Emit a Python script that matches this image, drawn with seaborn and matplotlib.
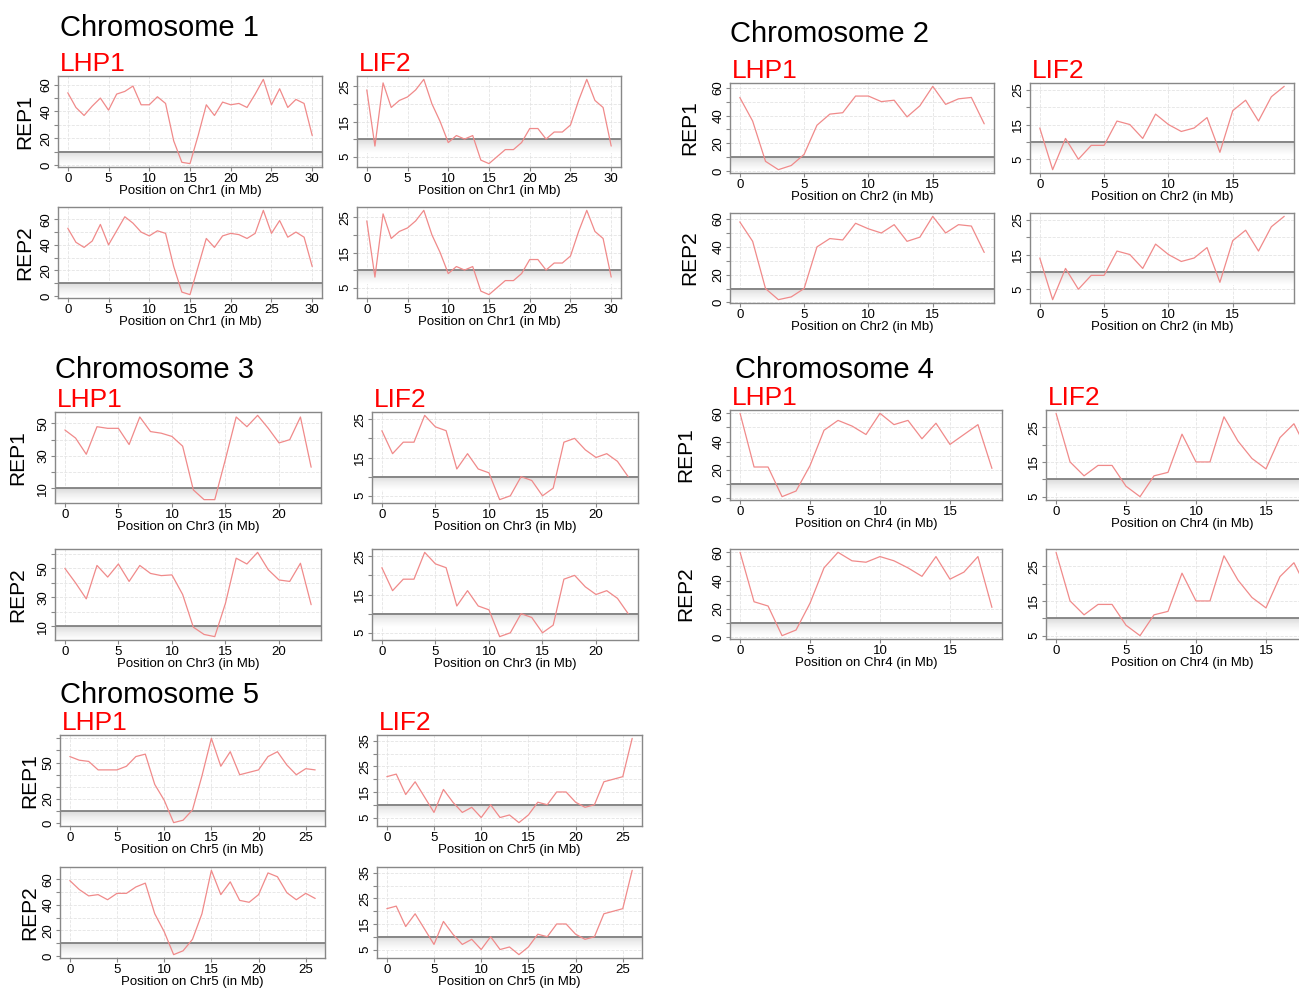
import numpy as np
import pandas as pd
import matplotlib.pyplot as plt
import seaborn as sns
from matplotlib.ticker import FixedLocator, FuncFormatter

# signal per 1 Mb bin (REP1 / REP2 for each protein)
chr1_lhp1_rep1 = [54, 43, 37, 44, 50, 41, 53, 55, 59, 45, 45, 51, 46, 18, 2, 1, 22, 45, 37, 47, 45, 46, 43, 53, 64, 45, 57, 43, 49, 46, 22]
chr1_lhp1_rep2 = [53, 42, 38, 43, 56, 40, 51, 62, 57, 50, 47, 51, 49, 23, 3, 1, 23, 45, 38, 47, 49, 48, 45, 49, 67, 49, 59, 46, 50, 46, 23]
chr1_lif2_rep1 = [24, 8, 26, 19, 21, 22, 24, 27, 20, 15, 9, 11, 10, 11, 4, 3, 5, 7, 7, 9, 13, 13, 10, 12, 12, 14, 21, 27, 21, 19, 8]
chr1_lif2_rep2 = [24, 8, 26, 19, 21, 22, 24, 27, 20, 15, 9, 11, 10, 11, 4, 3, 5, 7, 7, 9, 13, 13, 10, 12, 12, 14, 21, 27, 21, 19, 8]

chr2_lhp1_rep1 = [53, 36, 7, 1, 4, 12, 33, 41, 42, 54, 54, 50, 51, 39, 47, 61, 48, 52, 53, 34]
chr2_lhp1_rep2 = [58, 44, 10, 2, 4, 10, 40, 46, 45, 57, 53, 50, 56, 44, 47, 62, 50, 56, 55, 36]
chr2_lif2_rep1 = [14, 2, 11, 5, 9, 9, 16, 15, 11, 18, 15, 13, 14, 17, 7, 19, 22, 16, 23, 26]
chr2_lif2_rep2 = [14, 2, 11, 5, 9, 9, 16, 15, 11, 18, 15, 13, 14, 17, 7, 19, 22, 16, 23, 26]

chr3_lhp1_rep1 = [46, 41, 31, 48, 47, 47, 37, 54, 45, 44, 42, 36, 9, 3, 3, 28, 54, 48, 55, 47, 38, 40, 54, 23]
chr3_lhp1_rep2 = [50, 40, 29, 52, 44, 53, 41, 52, 46.5, 45, 45.5, 32, 9.5, 4.5, 3, 26, 57, 53, 61, 49, 42, 41, 53.5, 25]
chr3_lif2_rep1 = [22, 16, 19, 19, 26, 23, 22, 12, 16, 12, 11, 4, 5, 10, 9, 5, 7, 19, 20, 17, 15, 16, 14, 10]
chr3_lif2_rep2 = [22, 16, 19, 19, 26, 23, 22, 12, 16, 12, 11, 4, 5, 10, 9, 5, 7, 19, 20, 17, 15, 16, 14, 10]

chr4_lhp1_rep1 = [60, 22, 22, 1, 5, 23, 48, 55, 51, 45, 60, 52, 55, 42, 53, 38, 45, 52, 21]
chr4_lhp1_rep2 = [60, 25, 22, 1, 5, 24, 49, 60, 54, 53, 57, 54, 49, 43, 57, 41, 46, 57, 21]
chr4_lif2_rep1 = [29, 15, 11, 14, 14, 8, 5, 11, 12, 23, 15, 15, 28, 21, 16, 13, 22, 26, 18]
chr4_lif2_rep2 = [29, 15, 11, 14, 14, 8, 5, 11, 12, 23, 15, 15, 28, 21, 16, 13, 22, 26, 18]

chr5_lhp1_rep1 = [55, 52, 51, 44, 44, 44, 47, 55, 57, 32, 19, 0.5, 2.5, 11, 39, 70, 47, 59, 40, 42, 44, 55, 59, 48, 40, 45, 44]
chr5_lhp1_rep2 = [59, 52, 47, 48, 44, 49, 49, 54, 57, 33, 19, 1, 4, 13, 33, 67, 48, 58, 43.5, 42, 48, 65, 62, 49.5, 44, 49, 45]
chr5_lif2_rep1 = [21, 22, 14, 19, 13, 7, 16, 11, 7, 9, 5, 10, 5, 6, 3, 6, 11, 10, 15, 15, 11, 9, 10, 19, 20, 21, 36]
chr5_lif2_rep2 = [21, 22, 14, 19, 13, 7, 16, 11, 7, 9, 5, 10, 5, 6, 3, 6, 11, 10, 15, 15, 11, 9, 10, 19, 20, 21, 36]

threshold = 10
proteins = ['LHP1', 'LIF2']
reps = ['REP1', 'REP2']

# labelled y ticks (the other ticks are drawn without labels)
lhp1_ylabels = [0, 20, 40, 60]
lhp1_ylabels_chr3 = [10, 30, 50]
lhp1_ylabels_chr5_rep1 = [0, 20, 50]
lif2_ylabels = [5, 15, 25]
lif2_ylabels_chr5 = [5, 15, 25, 35]

series = {
    1: [[chr1_lhp1_rep1, chr1_lhp1_rep2], [chr1_lif2_rep1, chr1_lif2_rep2]],
    2: [[chr2_lhp1_rep1, chr2_lhp1_rep2], [chr2_lif2_rep1, chr2_lif2_rep2]],
    3: [[chr3_lhp1_rep1, chr3_lhp1_rep2], [chr3_lif2_rep1, chr3_lif2_rep2]],
    4: [[chr4_lhp1_rep1, chr4_lhp1_rep2], [chr4_lif2_rep1, chr4_lif2_rep2]],
    5: [[chr5_lhp1_rep1, chr5_lhp1_rep2], [chr5_lif2_rep1, chr5_lif2_rep2]],
}
ylabel_sets = {
    1: [[lhp1_ylabels, lhp1_ylabels], [lif2_ylabels, lif2_ylabels]],
    2: [[lhp1_ylabels, lhp1_ylabels], [lif2_ylabels, lif2_ylabels]],
    3: [[lhp1_ylabels_chr3, lhp1_ylabels_chr3], [lif2_ylabels, lif2_ylabels]],
    4: [[lhp1_ylabels, lhp1_ylabels], [lif2_ylabels, lif2_ylabels]],
    5: [[lhp1_ylabels_chr5_rep1, lhp1_ylabels], [lif2_ylabels_chr5, lif2_ylabels_chr5]],
}
ytick_step = [10, 5]

# layout in pixels: title x, title baseline, LHP1 left, LIF2 left, REP1 top, REP2 top, width, height, REP label x
layout = {
    1: (60, 36, 58, 357, 76, 207, 264, 91, 25),
    2: (730, 42, 730, 1030, 83, 213, 264, 90, 690),
    3: (55, 378, 55, 372, 412, 549, 266, 91, 18),
    4: (735, 378, 730, 1046, 410, 549, 272, 90, 686),
    5: (60, 703, 60, 377, 735, 867, 265, 91, 30),
}

W, H = 1299, 989
sns.set_style('white')
plt.rcParams['font.family'] = ['Liberation Sans', 'DejaVu Sans']
plt.rcParams.update({'text.color': 'black', 'axes.labelcolor': 'black',
                     'xtick.color': 'black', 'ytick.color': 'black'})

fig = plt.figure(figsize=(W / 100, H / 100), dpi=100)
fig.patch.set_facecolor('white')


def px_axes(left, top, width, height):
    return fig.add_axes([left / W, 1 - (top + height) / H, width / W, height / H])


def draw_panel(ax, values, chrom, step, labels):
    df = pd.DataFrame({'pos': np.arange(len(values)), 'signal': values})
    sns.lineplot(data=df, x='pos', y='signal', ax=ax, color='#f08a8a', linewidth=0.9, zorder=3)
    n = len(values) - 1
    lo, hi = min(min(values), threshold), max(values)
    pad = 0.04 * (hi - lo)
    ylim = (lo - pad, hi + pad)
    xlim = (-0.04 * n, n * 1.04)
    # threshold line with a soft shadow underneath
    band = 0.15 * (ylim[1] - ylim[0])
    grad = np.linspace(0.24, 0.0, 30).reshape(-1, 1)
    ax.imshow(grad, extent=(xlim[0], xlim[1], threshold - band, threshold), aspect='auto',
              cmap='Greys', vmin=0, vmax=1, zorder=1, interpolation='bilinear')
    ax.axhline(threshold, color='#808080', linewidth=1.3, zorder=2)
    ax.set_xlim(xlim)
    ax.set_ylim(ylim)

    yt = [v for v in range(0, 80, step) if ylim[0] <= v <= ylim[1]]
    ax.yaxis.set_major_locator(FixedLocator(yt))
    ax.yaxis.set_major_formatter(FuncFormatter(lambda v, p: f'{v:g}' if v in labels else ''))
    ax.xaxis.set_major_locator(FixedLocator(range(0, n + 1, 5)))
    ax.grid(True, color='#e4e4e4', linestyle='--', linewidth=0.6)
    ax.set_axisbelow(True)
    ax.tick_params(axis='both', length=3, width=0.8, color='#888888', labelsize=9.5,
                   pad=1, direction='out', bottom=True, left=True)
    for lab in ax.get_yticklabels():
        lab.set_rotation(90)
        lab.set_va('center')
    for sp in ax.spines.values():
        sp.set_color('#888888')
        sp.set_linewidth(1.0)
    ax.set_xlabel(f'Position on Chr{chrom} (in Mb)', fontsize=9.5, labelpad=0)
    ax.set_ylabel('')


for chrom, (tx, ty, l1, l2, t1, t2, w, h, rx) in layout.items():
    fig.text(tx / W, 1 - ty / H, f'Chromosome {chrom}', fontsize=21, va='baseline', ha='left')
    for p, left in enumerate([l1, l2]):
        fig.text((left + 2) / W, 1 - (t1 - 5) / H, proteins[p], fontsize=19,
                 color='red', va='baseline', ha='left')
        for r, top in enumerate([t1, t2]):
            ax = px_axes(left, top, w, h)
            draw_panel(ax, series[chrom][p][r], chrom, ytick_step[p], ylabel_sets[chrom][p][r])
    for r, top in enumerate([t1, t2]):
        fig.text(rx / W, 1 - (top + h / 2) / H, reps[r], fontsize=15, rotation=90,
                 va='center', ha='center')

fig.savefig('out.png', dpi=100)
